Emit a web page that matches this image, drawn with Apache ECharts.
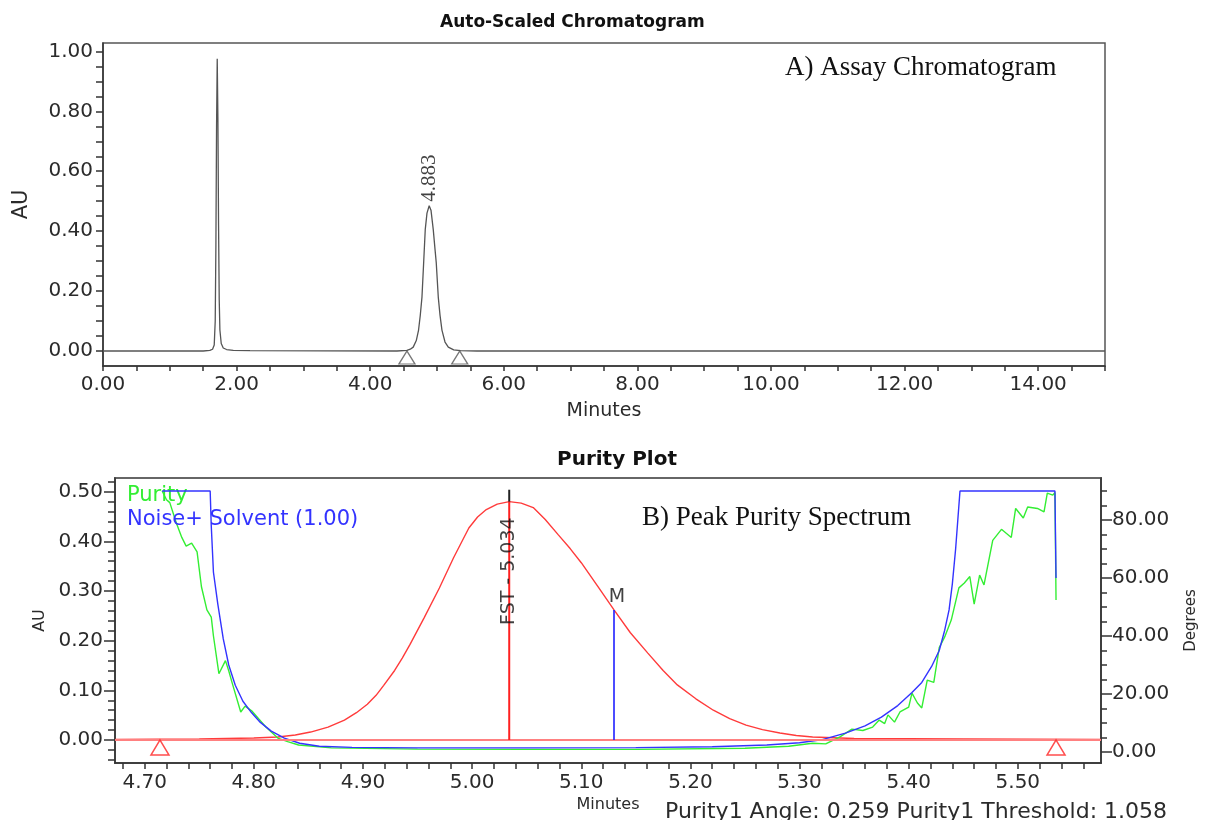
<!DOCTYPE html>
<html>
<head>
<meta charset="utf-8">
<title>Chromatogram and Purity Plot</title>
<script src="https://cdn.jsdelivr.net/npm/echarts@6/dist/echarts.min.js"></script>
<style>
html, body { margin: 0; padding: 0; background: #fff; }
#chart { width: 1207px; height: 820px; }
</style>
</head>
<body>
<div id="chart"></div>
<script>
// ---- A) assay chromatogram (minutes, AU) ----
var chromTime = [0, 1.50, 1.60, 1.64, 1.665, 1.68, 1.69, 1.70, 1.71, 1.72, 1.73, 1.74, 1.75, 1.77, 1.80, 1.85, 1.95, 2.20,
                 4.40, 4.55, 4.60, 4.644, 4.69, 4.724, 4.75, 4.775, 4.80, 4.824, 4.85, 4.883, 4.91, 4.944, 4.97, 4.989,
                 5.019, 5.045, 5.074, 5.12, 5.169, 5.25, 5.35, 5.60, 15];
var chromAU = [0, 0, 0.002, 0.006, 0.02, 0.10, 0.35, 0.75, 0.975, 0.78, 0.42, 0.17, 0.07, 0.025, 0.010, 0.005, 0.002, 0.001,
               0, 0.002, 0.006, 0.013, 0.035, 0.07, 0.12, 0.18, 0.294, 0.405, 0.46, 0.485, 0.47, 0.405, 0.34, 0.294,
               0.18, 0.12, 0.07, 0.03, 0.013, 0.004, 0.001, 0, 0];
var peakRT = [4.883];
var peakAU = [0.485];
var integMarks = [4.55, 5.34];

var topXLabels = [0, 2, 4, 6, 8, 10, 12, 14];
var topYLabels = [0, 0.2, 0.4, 0.6, 0.8, 1.0];

// ---- B) purity plot ----
var maxTime = [4.673, 4.75, 4.80, 4.822, 4.838, 4.852, 4.868, 4.883, 4.894, 4.904, 4.912, 4.919, 4.929, 4.936, 4.943,
               4.956, 4.970, 4.983, 4.997, 5.005, 5.013, 5.023, 5.034, 5.045, 5.056, 5.067, 5.079, 5.090, 5.100,
               5.115, 5.130, 5.145, 5.161, 5.175, 5.188, 5.205, 5.221, 5.236, 5.251, 5.266, 5.282, 5.297, 5.312,
               5.35, 5.45, 5.576];
var maxAU = [0.001, 0.002, 0.004, 0.006, 0.010, 0.016, 0.026, 0.040, 0.055, 0.072, 0.090, 0.110, 0.140, 0.165, 0.192,
             0.246, 0.306, 0.367, 0.427, 0.449, 0.464, 0.475, 0.480, 0.477, 0.468, 0.444, 0.413, 0.385, 0.357,
             0.310, 0.262, 0.216, 0.175, 0.140, 0.111, 0.083, 0.060, 0.043, 0.030, 0.021, 0.014, 0.009, 0.006,
             0.003, 0.002, 0.001];

var purityTime = [4.716, 4.720, 4.723, 4.729, 4.734, 4.738, 4.743, 4.748, 4.752, 4.757, 4.761, 4.763, 4.768, 4.774, 4.777,
                  4.780, 4.788, 4.792, 4.798, 4.811, 4.822, 4.831, 4.841, 4.871, 4.95, 5.05, 5.15, 5.25, 5.29, 5.312,
                  5.324, 5.337, 5.348, 5.358, 5.367, 5.373, 5.378, 5.381, 5.387, 5.392, 5.400, 5.403, 5.408, 5.412,
                  5.417, 5.423, 5.428, 5.433, 5.439, 5.446, 5.451, 5.456, 5.460, 5.465, 5.469, 5.477, 5.485, 5.494,
                  5.498, 5.505, 5.509, 5.518, 5.524, 5.527, 5.532, 5.534, 5.535];
var purityDeg = [90, 87, 86, 79, 74, 71, 72, 69, 57, 49, 46.5, 40, 27, 31.5, 28,
                 24, 13.8, 15.8, 14.2, 8.6, 4.8, 3.6, 2.4, 1.4, 1.0, 0.9, 0.9, 1.3, 2.0, 3.0,
                 2.8, 5.2, 7.9, 7.4, 8.6, 11, 9.8, 12.8, 10.3, 13.8, 15.5, 20.3, 16.9, 15.2,
                 24.8, 24, 36, 39.7, 45.5, 56.6, 58.3, 60.5, 51, 61, 57.6, 73, 76.8, 74,
                 84, 80.7, 84.5, 84, 82.8, 89.3, 88.6, 89.5, 52.4];

var thresholdTime = [4.716, 4.760, 4.761, 4.763, 4.767, 4.772, 4.777, 4.783, 4.790, 4.798, 4.806, 4.816, 4.828, 4.842,
                     4.860, 4.890, 4.95, 5.05, 5.15, 5.22, 5.27, 5.30, 5.32, 5.342, 5.36, 5.375, 5.39, 5.403, 5.412,
                     5.421, 5.428, 5.433, 5.437, 5.440, 5.443, 5.445, 5.447, 5.534, 5.535];
var thresholdDeg = [90, 90, 78, 62, 51, 39, 30, 23, 17.5, 13.5, 10.2, 7.2, 4.8, 3.0,
                    2.0, 1.6, 1.4, 1.4, 1.5, 1.8, 2.4, 3.2, 4.2, 6.5, 9.0, 12.0, 16.0, 20.5, 24.0,
                    29.5, 35.0, 42.0, 49.0, 58.0, 70.0, 80.0, 90, 90, 60];

var fstTime = 5.034, fstAU = 0.480, fstTopAU = 0.504, fstLabelAU = 0.34;
var mTime = 5.130, mAU = 0.262;
var purityMarks = [4.714, 5.535];
var purityAngle = 0.259, purityThreshold = 1.058;

var botXLabels = [4.7, 4.8, 4.9, 5.0, 5.1, 5.2, 5.3, 5.4, 5.5];
var botYLabels = [0, 0.1, 0.2, 0.3, 0.4, 0.5];
var degLabels = [0, 20, 40, 60, 80];

function steps(a, b, s) {
  var out = [];
  for (var v = a; v <= b + s / 2; v += s) out.push(Math.round(v * 1000) / 1000);
  return out;
}
function pairs(xs, ys) { return xs.map(function (x, i) { return [x, ys[i]]; }); }
function f2(v) { return Number(v).toFixed(2); }

var FONT = 'DejaVu Sans';
var SERIF = 'Liberation Serif';
var AXC = '#333';
var LBL = { fontFamily: FONT, fontSize: 20, color: '#2b2b2b', formatter: f2 };

var chart = echarts.init(document.getElementById('chart'));

var option = {
  animation: false,
  backgroundColor: '#fff',
  title: [
    { text: 'Auto-Scaled Chromatogram', left: 435, top: 9,
      textStyle: { fontFamily: FONT, fontSize: 17, fontWeight: 'bold', color: '#111' } },
    { text: 'A) Assay Chromatogram', left: 780, top: 49,
      textStyle: { fontFamily: SERIF, fontSize: 27, fontWeight: 'normal', color: '#111' } },
    { text: 'Purity Plot', left: 552, top: 445,
      textStyle: { fontFamily: FONT, fontSize: 20, fontWeight: 'bold', color: '#111' } },
    { text: 'B) Peak Purity Spectrum', left: 637, top: 499,
      textStyle: { fontFamily: SERIF, fontSize: 27, fontWeight: 'normal', color: '#111' } },
    { text: 'Purity1 Angle: ' + purityAngle.toFixed(3) + ' Purity1 Threshold: ' + purityThreshold.toFixed(3),
      left: 660, top: 796,
      textStyle: { fontFamily: FONT, fontSize: 22, fontWeight: 'normal', color: '#2b2b2b' } }
  ],
  legend: {
    orient: 'vertical', left: 117, top: 480, itemGap: 3, itemWidth: 0, itemHeight: 0, icon: 'none',
    selectedMode: false,
    textStyle: { fontFamily: FONT, fontSize: 21 },
    data: [
      { name: 'Purity', textStyle: { color: '#33ee33' } },
      { name: 'Noise+ Solvent (1.00)', textStyle: { color: '#3333ff' } }
    ]
  },
  grid: [
    { left: 103, top: 43, width: 1002, height: 323, show: true, borderColor: '#555', borderWidth: 1.5 },
    { left: 115, top: 478, width: 996, height: 285, show: true, borderColor: '#666', borderWidth: 2 }
  ],
  xAxis: [
    { type: 'value', gridIndex: 0, min: 0, max: 15,
      name: 'Minutes', nameLocation: 'middle', nameGap: 36,
      nameTextStyle: { fontFamily: FONT, fontSize: 19, color: '#2b2b2b' },
      axisLine: { show: true, onZero: false, lineStyle: { color: AXC, width: 1.5 } },
      axisTick: { show: true, length: 5, customValues: steps(0, 15, 0.5), lineStyle: { color: AXC, width: 1.5 } },
      axisLabel: Object.assign({ margin: 9, customValues: topXLabels }, LBL),
      splitLine: { show: false } },
    { type: 'value', gridIndex: 1, min: 4.6728, max: 5.5762,
      name: 'Minutes', nameLocation: 'middle', nameGap: 34,
      nameTextStyle: { fontFamily: FONT, fontSize: 16, color: '#2b2b2b' },
      axisLine: { show: true, onZero: false, lineStyle: { color: AXC, width: 1.5 } },
      axisTick: { show: true, length: 6, customValues: steps(4.68, 5.56, 0.02), lineStyle: { color: AXC, width: 1.5 } },
      axisLabel: Object.assign({ margin: 10, customValues: botXLabels }, LBL),
      splitLine: { show: false } }
  ],
  yAxis: [
    { type: 'value', gridIndex: 0, position: 'left', min: -0.05, max: 1.028,
      name: 'AU', nameLocation: 'middle', nameGap: 71, nameRotate: 90,
      nameTextStyle: { fontFamily: FONT, fontSize: 21, color: '#2b2b2b' },
      axisLine: { show: true, onZero: false, lineStyle: { color: AXC, width: 1.5 } },
      axisTick: { show: true, length: 7, customValues: steps(0, 1.0, 0.05), lineStyle: { color: AXC, width: 1.5 } },
      axisLabel: Object.assign({ margin: 10, customValues: topYLabels }, LBL),
      splitLine: { show: false } },
    // purity plot, AU: minor ticks
    { type: 'value', gridIndex: 1, position: 'left', min: -0.0463, max: 0.5276,
      axisLine: { show: true, onZero: false, lineStyle: { color: AXC, width: 1.5 } },
      axisTick: { show: true, length: 7, customValues: steps(-0.04, 0.52, 0.02), lineStyle: { color: AXC, width: 1.5 } },
      axisLabel: { show: false }, splitLine: { show: false } },
    // purity plot, AU: major ticks + labels
    { type: 'value', gridIndex: 1, position: 'left', min: -0.0463, max: 0.5276,
      name: 'AU', nameLocation: 'middle', nameGap: 60, nameRotate: 90,
      nameTextStyle: { fontFamily: FONT, fontSize: 16, color: '#2b2b2b' },
      axisLine: { show: false },
      axisTick: { show: true, length: 11, customValues: botYLabels, lineStyle: { color: AXC, width: 1.5 } },
      axisLabel: Object.assign({ margin: 12, customValues: botYLabels }, LBL),
      splitLine: { show: false } },
    // purity plot, degrees: minor ticks
    { type: 'value', gridIndex: 1, position: 'right', min: -3.8, max: 94.5,
      axisLine: { show: true, onZero: false, lineStyle: { color: AXC, width: 1.5 } },
      axisTick: { show: true, length: 6, customValues: steps(0, 90, 5), lineStyle: { color: AXC, width: 1.5 } },
      axisLabel: { show: false }, splitLine: { show: false } },
    // purity plot, degrees: major ticks + labels
    { type: 'value', gridIndex: 1, position: 'right', min: -3.8, max: 94.5,
      name: 'Degrees', nameLocation: 'middle', nameGap: 83, nameRotate: 90,
      nameTextStyle: { fontFamily: FONT, fontSize: 15, color: '#2b2b2b' },
      axisLine: { show: false },
      axisTick: { show: true, length: 11, customValues: degLabels, lineStyle: { color: AXC, width: 1.5 } },
      axisLabel: Object.assign({ margin: 11, customValues: degLabels }, LBL),
      splitLine: { show: false } }
  ],
  series: [
    // ---- top ----
    { name: 'chromatogram', type: 'line', xAxisIndex: 0, yAxisIndex: 0, data: pairs(chromTime, chromAU),
      showSymbol: false, lineStyle: { color: '#555', width: 1.3 }, z: 3 },
    { name: 'peakLabel', type: 'scatter', xAxisIndex: 0, yAxisIndex: 0, data: pairs(peakRT, peakAU),
      symbolSize: 0, silent: true,
      label: { show: true, position: 'top', distance: 4, rotate: 90, align: 'left', verticalAlign: 'middle',
               formatter: function (p) { return p.value[0].toFixed(3); },
               fontFamily: SERIF, fontSize: 21, color: '#111' } },
    { name: 'integration', type: 'scatter', xAxisIndex: 0, yAxisIndex: 0,
      data: integMarks.map(function (t) { return [t, 0]; }),
      symbol: 'triangle', symbolSize: [16, 13], symbolOffset: [0, '50%'],
      itemStyle: { color: '#fff', borderColor: '#555', borderWidth: 1.3 }, z: 4 },

    // ---- bottom ----
    { name: 'maxplot', type: 'line', xAxisIndex: 1, yAxisIndex: 1, data: pairs(maxTime, maxAU),
      showSymbol: false, lineStyle: { color: '#ff3b3b', width: 1.4 }, z: 3,
      markLine: { silent: true, symbol: 'none', label: { show: false },
                  lineStyle: { color: '#ff8080', width: 2, type: 'solid' }, data: [{ yAxis: 0 }] } },
    { name: 'fstRed', type: 'line', xAxisIndex: 1, yAxisIndex: 1, data: [[fstTime, 0], [fstTime, fstAU]],
      showSymbol: false, lineStyle: { color: '#ff2020', width: 2 }, z: 5 },
    { name: 'fstBlack', type: 'line', xAxisIndex: 1, yAxisIndex: 1, data: [[fstTime, fstAU], [fstTime, fstTopAU]],
      showSymbol: false, lineStyle: { color: '#222', width: 2 }, z: 5 },
    { name: 'fstLabel', type: 'scatter', xAxisIndex: 1, yAxisIndex: 1, data: [[fstTime, fstLabelAU]],
      symbolSize: 0, silent: true, z: 6,
      label: { show: true, position: 'inside', rotate: 90, align: 'center', verticalAlign: 'middle',
               formatter: 'FST - ' + fstTime.toFixed(3), fontFamily: FONT, fontSize: 19, color: '#111' } },
    { name: 'mLine', type: 'line', xAxisIndex: 1, yAxisIndex: 1, data: [[mTime, 0], [mTime, mAU]],
      showSymbol: false, lineStyle: { color: '#2020ff', width: 1.6 }, z: 5 },
    { name: 'mLabel', type: 'scatter', xAxisIndex: 1, yAxisIndex: 1, data: [[mTime, mAU]],
      symbolSize: 0, silent: true, z: 6,
      label: { show: true, position: 'top', distance: 3, offset: [3, 0], formatter: 'M',
               fontFamily: FONT, fontSize: 19, color: '#111' } },
    { name: 'Purity', type: 'line', xAxisIndex: 1, yAxisIndex: 3, data: pairs(purityTime, purityDeg),
      showSymbol: false, color: '#33ee33', lineStyle: { color: '#33ee33', width: 1.4 }, z: 3 },
    { name: 'Noise+ Solvent (1.00)', type: 'line', xAxisIndex: 1, yAxisIndex: 3, data: pairs(thresholdTime, thresholdDeg),
      showSymbol: false, color: '#3333ff', lineStyle: { color: '#3333ff', width: 1.4 }, z: 4 },
    { name: 'purityMarks', type: 'scatter', xAxisIndex: 1, yAxisIndex: 1,
      data: purityMarks.map(function (t) { return [t, 0]; }),
      symbol: 'triangle', symbolSize: [18, 15], symbolOffset: [0, '50%'],
      itemStyle: { color: '#fff', borderColor: '#ff2020', borderWidth: 1.5 }, z: 6 }
  ]
};

chart.setOption(option);
</script>
</body>
</html>
